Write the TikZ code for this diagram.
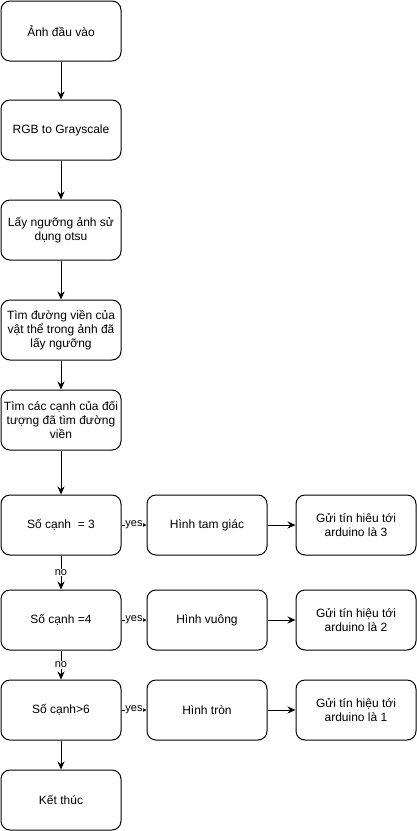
\documentclass[tikz,border=0pt]{standalone}
\usepackage{fontspec}
\setmainfont{Liberation Sans}
\usetikzlibrary{arrows.meta}
\begin{document}
\begin{tikzpicture}[x=1pt,y=1pt,
  box/.style={draw=black, line width=1pt, rounded corners=9pt, minimum width=120pt, minimum height=60pt, inner sep=0pt, align=center, font=\fontsize{12}{14}\selectfont},
  arr/.style={line width=1pt, -{Stealth[length=8pt,width=7pt]}},
  sarr/.style={line width=1pt, -{Stealth[length=4pt,width=4pt]}},
  lbl/.style={fill=white, inner sep=0.5pt, font=\fontsize{11}{13}\selectfont}]
\useasboundingbox (0,0) rectangle (417,-831);
\node[box] (b1) at (61,-31) {Ảnh đầu vào};
\node[box] (b2) at (61,-130) {RGB to Grayscale};
\node[box] (b3) at (61,-230) {Lấy ngưỡng ảnh sử\\dụng otsu};
\node[box] (b4) at (61,-330) {Tìm đường viền của\\vật thể trong ảnh đã\\lấy ngưỡng};
\node[box] (b5) at (61,-420) {Tìm các cạnh của đối\\tượng đã tìm đường\\viền};
\node[box] (b6) at (61,-525) {Số cạnh~ = 3};
\node[box] (b7) at (61,-620) {Số cạnh =4};
\node[box] (b8) at (61,-710) {Số cạnh>6};
\node[box] (b9) at (61,-800) {Kết thúc};
\node[box] (m1) at (207,-525) {Hình tam giác};
\node[box] (m2) at (207,-620) {Hình vuông};
\node[box] (m3) at (207,-710) {Hình tròn};
\node[box] (r1) at (356,-525) {Gửi tín hiêu tới\\arduino là 3};
\node[box] (r2) at (356,-620) {Gửi tín hiệu tới\\arduino là 2};
\node[box] (r3) at (356,-710) {Gửi tín hiệu tới\\arduino là 1};
\draw[arr] (b1) -- (b2);
\draw[arr] (b2) -- (b3);
\draw[arr] (b3) -- (b4);
\draw[arr] (b4) -- (b5);
\draw[arr] (b5) -- (b6);
\draw[arr] (b6) -- node[lbl] {no} (b7);
\draw[arr] (b7) -- node[lbl] {no} (b8);
\draw[arr] (b8) -- (b9);
\draw[sarr] (b6) -- node[lbl] {yes} (m1);
\draw[sarr] (b7) -- node[lbl] {yes} (m2);
\draw[sarr] (b8) -- node[lbl] {yes} (m3);
\draw[arr] (m1) -- (r1);
\draw[arr] (m2) -- (r2);
\draw[arr] (m3) -- (r3);
\end{tikzpicture}
\end{document}
